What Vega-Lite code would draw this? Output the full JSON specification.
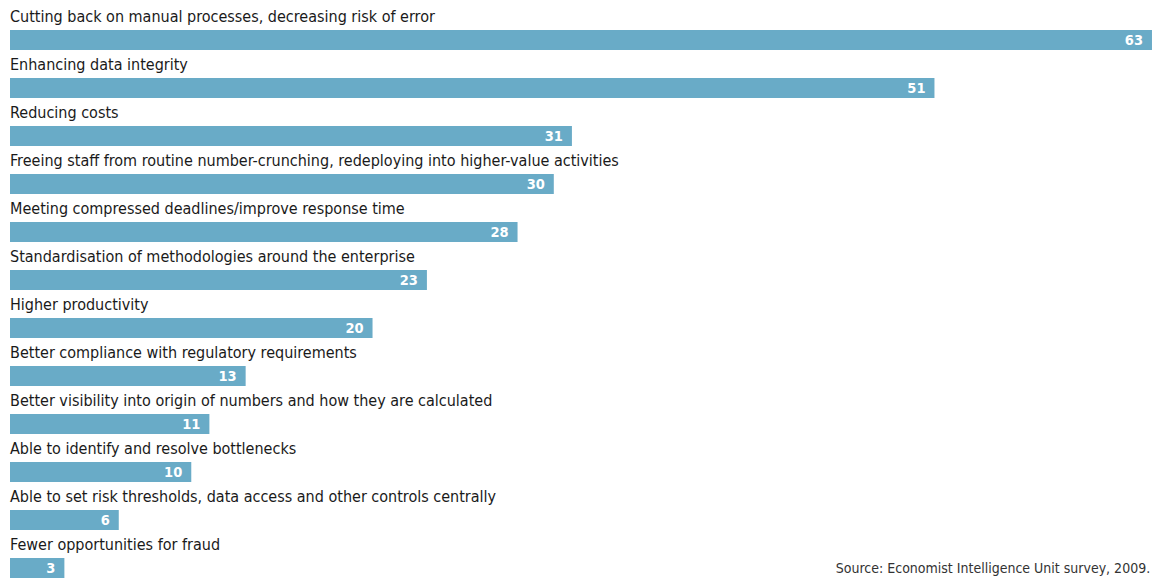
{
  "$schema": "https://vega.github.io/schema/vega-lite/v6.json",
  "width": 1157,
  "height": 578,
  "padding": 0,
  "autosize": {"type": "fit", "contains": "padding"},
  "background": "white",
  "config": {"view": {"stroke": null}},
  "data": {"values": [
    {"label": "Cutting back on manual processes, decreasing risk of error", "value": 63},
    {"label": "Enhancing data integrity", "value": 51},
    {"label": "Reducing costs", "value": 31},
    {"label": "Freeing staff from routine number-crunching, redeploying into higher-value activities", "value": 30},
    {"label": "Meeting compressed deadlines/improve response time", "value": 28},
    {"label": "Standardisation of methodologies around the enterprise", "value": 23},
    {"label": "Higher productivity", "value": 20},
    {"label": "Better compliance with regulatory requirements", "value": 13},
    {"label": "Better visibility into origin of numbers and how they are calculated", "value": 11},
    {"label": "Able to identify and resolve bottlenecks", "value": 10},
    {"label": "Able to set risk thresholds, data access and other controls centrally", "value": 6},
    {"label": "Fewer opportunities for fraud", "value": 3}
  ]},
  "encoding": {
    "y": {"field": "label", "type": "nominal", "sort": null, "axis": null,
          "scale": {"range": [16, 592], "paddingInner": 0, "paddingOuter": 0}}
  },
  "layer": [
    {
      "mark": {"type": "bar", "color": "#69abc7", "height": 20, "orient": "horizontal"},
      "encoding": {
        "x": {"field": "value", "type": "quantitative", "axis": null,
              "scale": {"domain": [-0.552, 63.277], "nice": false, "zero": false}}
      }
    },
    {
      "mark": {"type": "text", "align": "right", "baseline": "middle", "dx": -9, "dy": 1,
               "font": "DejaVu Sans Condensed, sans-serif", "fontSize": 14.5, "fontWeight": "bold", "color": "white"},
      "encoding": {
        "x": {"field": "value", "type": "quantitative"},
        "text": {"field": "value", "type": "quantitative"}
      }
    },
    {
      "mark": {"type": "text", "align": "left", "baseline": "alphabetic", "yOffset": -18,
               "font": "DejaVu Sans Condensed, sans-serif", "fontSize": 16, "color": "#1a1a1a"},
      "encoding": {
        "x": {"datum": 0},
        "text": {"field": "label", "type": "nominal"}
      }
    },
    {
      "data": {"values": [{"note": "Source: Economist Intelligence Unit survey, 2009."}]},
      "mark": {"type": "text", "align": "right", "baseline": "alphabetic", "yOffset": 5,
               "font": "DejaVu Sans Condensed, sans-serif", "fontSize": 14, "color": "#333333"},
      "encoding": {
        "x": {"datum": 62.9},
        "y": {"datum": "Fewer opportunities for fraud"},
        "text": {"field": "note", "type": "nominal"}
      }
    }
  ]
}
